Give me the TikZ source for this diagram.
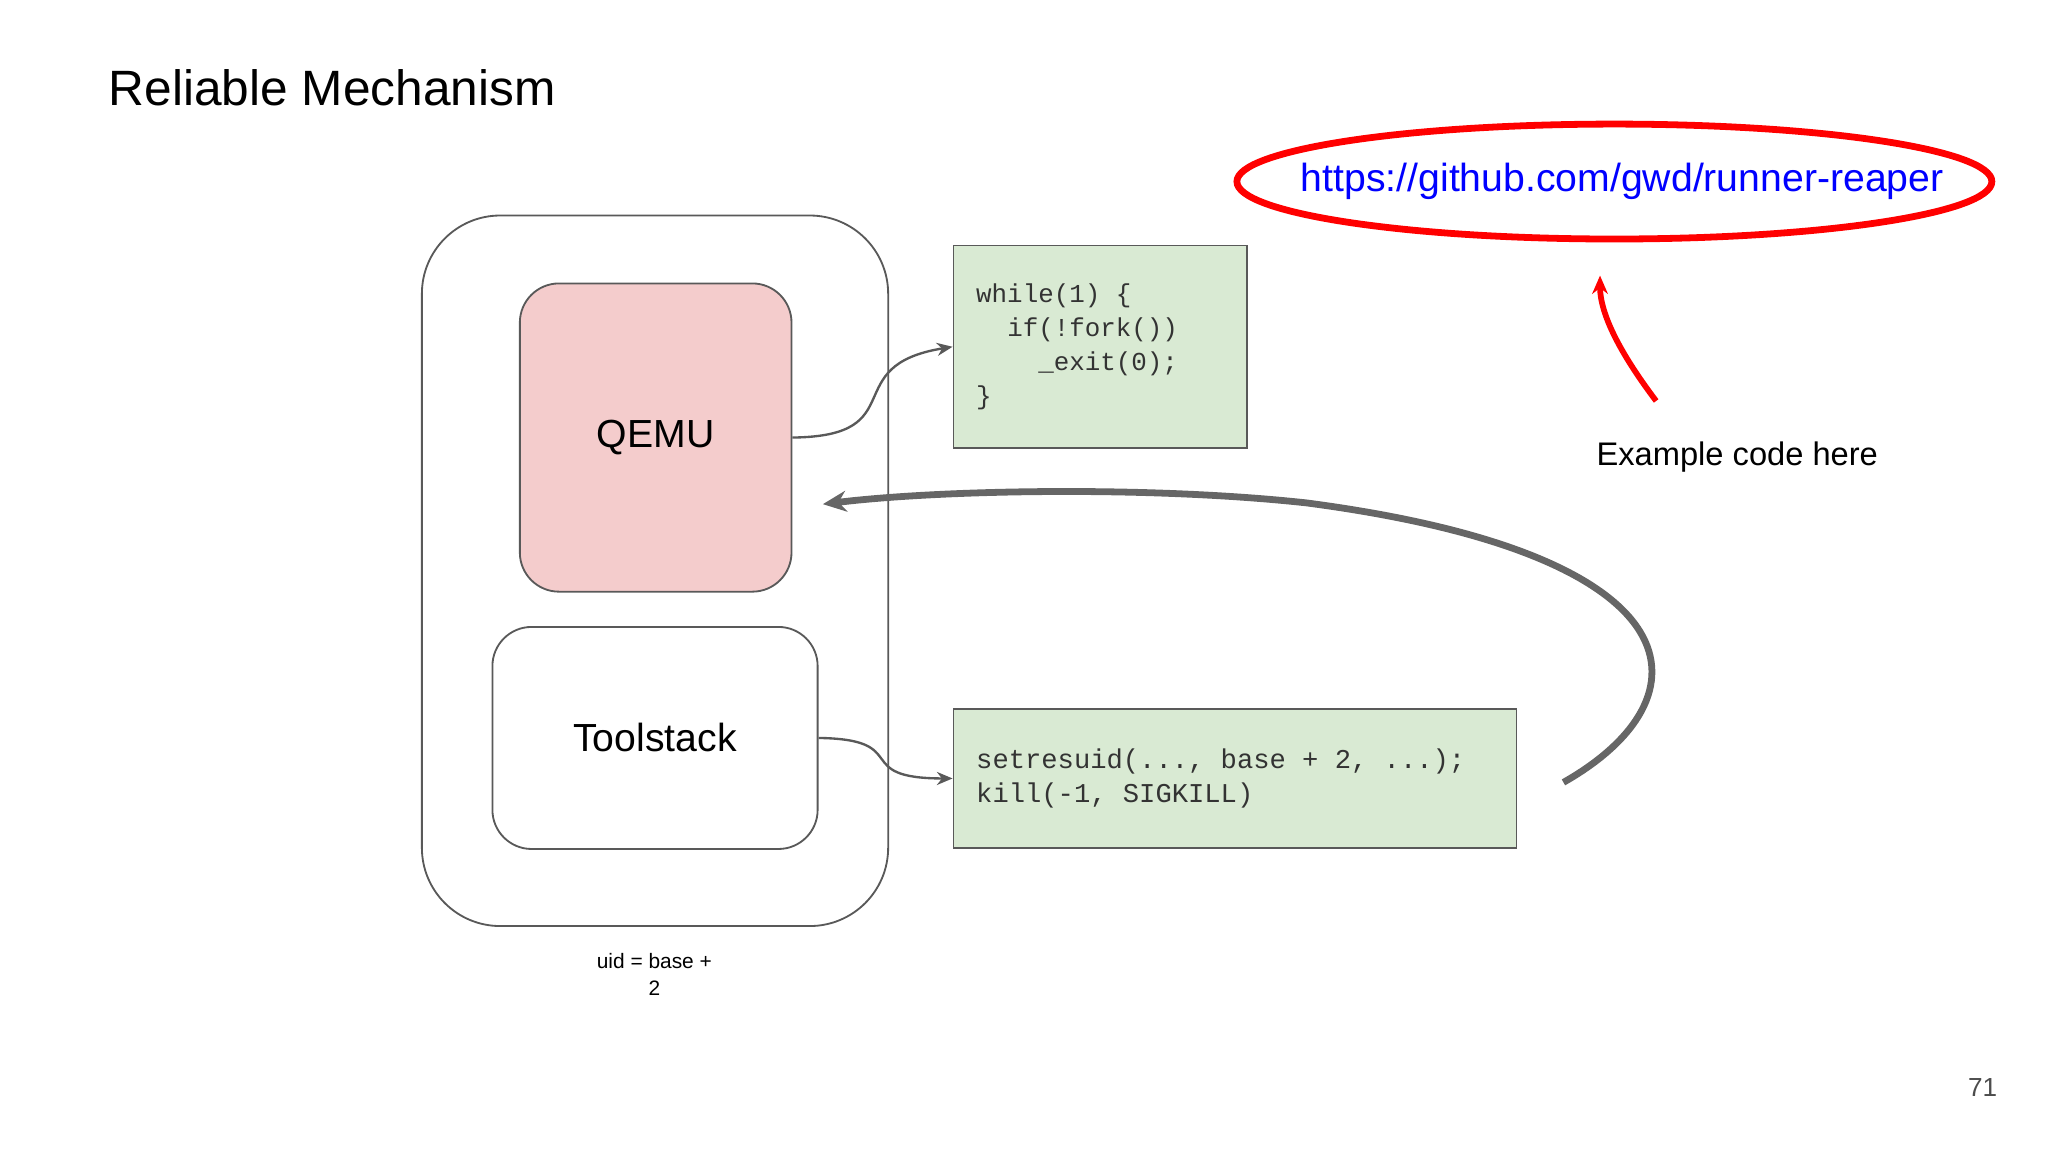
\documentclass[tikz,border=0pt]{standalone}
\usepackage{fontspec}
\setmainfont{Liberation Sans}
\newfontfamily\codefont{Liberation Mono}
\usetikzlibrary{arrows.meta,shapes.geometric}
\definecolor{pinkq}{HTML}{F4CCCC}
\definecolor{greenc}{HTML}{D9EAD3}
\definecolor{edge}{HTML}{595959}
\begin{document}
\begin{tikzpicture}[x=0.5pt,y=-0.5pt,
  box/.style={draw=edge,line width=0.7pt},
  code/.style={font=\codefont\fontsize{9.9}{13}\selectfont,anchor=north west,align=left,text=black!80,inner sep=0},
  thin/.style={draw=edge,line width=0.9pt,-{Stealth[length=6pt,width=5pt]}}]
\useasboundingbox (0,0) rectangle (1568,882);
\node[anchor=base west,font=\fontsize{19}{22}\selectfont,inner sep=0] (title) at (83,81) {Reliable Mechanism};
\draw[box,rounded corners=30pt] (323,165) rectangle (680,709);
\node[box,rounded corners=15pt,fill=pinkq,minimum width=104pt,minimum height=118pt,font=\fontsize{15}{18}\selectfont] (qemu) at (502,335) {QEMU};
\node[box,rounded corners=15pt,fill=white,minimum width=124.5pt,minimum height=85pt,font=\fontsize{15}{18}\selectfont] (tool) at (501.5,565) {Toolstack};
\node[box,fill=greenc,minimum width=112.5pt,minimum height=77.5pt,inner sep=0] (c1) at (842.5,265.5) {};
\node[code] at (747,217) {while(1) \{\\\ \ if(!fork())\\\ \ \ \ \_exit(0);\\\}};
\node[box,fill=greenc,minimum width=215.5pt,minimum height=53pt,inner sep=0] (c2) at (945.5,596) {};
\node[code,font=\codefont\fontsize{10.4}{13}\selectfont] at (747,573) {setresuid(..., base + 2, ...);\\kill(-1, SIGKILL)};
\node[font=\fontsize{8}{10}\selectfont,align=center] (uid) at (501,746) {uid = base +\\2};
\draw[thin] (qemu.east) .. controls (700,334) and (640,280) .. (c1.west);
\draw[thin] (tool.east) .. controls (700,566) and (650,596) .. (c2.west);
\coordinate (bs) at (1197,599);
\coordinate (be) at (630,386);
\draw[draw=black!60,line width=2.6pt,-{Stealth[length=9pt,width=8pt]}] (bs) .. controls (1310,535) and (1305,425) .. (1000,385) .. controls (880,372) and (720,375) .. (be);
\node[draw=red,line width=2.6pt,ellipse,minimum width=289pt,minimum height=44pt,inner sep=0] (ell) at (1236,139) {};
\node[text=blue,font=\fontsize{15}{18}\selectfont] (url) at (1242,139) {https://github.com/gwd/runner-reaper};
\node[anchor=west,font=\fontsize{12.5}{15}\selectfont,inner sep=0] (ex) at (1222,350) {Example code here};
\coordinate (rs) at (1268,307);
\coordinate (re) at (1225,211);
\draw[red,line width=2.2pt,-{Stealth[length=7pt,width=6pt]}] (rs) .. controls (1240,270) and (1225,240) .. (re);
\node[font=\fontsize{10}{12}\selectfont,text=black!70] (num) at (1518,833) {71};
\end{tikzpicture}
\end{document}
